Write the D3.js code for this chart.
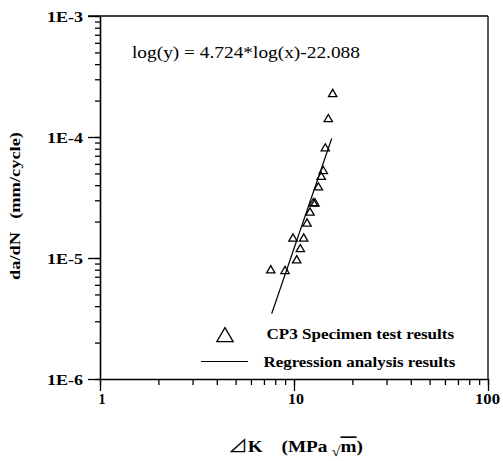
<!DOCTYPE html>
<html>
<head>
<meta charset="utf-8">
<script src="https://cdn.jsdelivr.net/npm/d3@7"></script>
<style>
  body { margin: 0; background: #fff; }
</style>
</head>
<body>
<div id="chart"></div>
<script>
var svgWidth = 503;
var svgHeight = 461;
var margin = {top: 16, right: 15, bottom: 82, left: 100};
var width = svgWidth - margin.left - margin.right;
var height = svgHeight - margin.top - margin.bottom;
var serifFont = "'Liberation Serif'";

// CP3 specimen test results
var deltaK = [15.83, 15.02, 14.50, 14.16, 13.82, 13.35, 12.83, 12.58, 12.09, 11.67, 9.88, 11.22, 10.78, 10.33, 8.99, 7.59];
var crackRate = [2.26e-4, 1.40e-4, 8.03e-5, 5.21e-5, 4.67e-5, 3.82e-5, 2.81e-5, 2.83e-5, 2.37e-5, 1.92e-5, 1.445e-5, 1.445e-5, 1.18e-5, 9.55e-6, 7.79e-6, 7.89e-6];

// regression line ends
var regK = [7.67, 15.64];
var regRate = [3.46e-6, 9.72e-5];

var xTickValues = [1, 10, 100];
var xTickLabels = ["1", "10", "100"];
var yTickValues = [1e-6, 1e-5, 1e-4, 1e-3];
var yTickLabels = ["1E-6", "1E-5", "1E-4", "1E-3"];

var equationText = "log(y) = 4.724*log(x)-22.088";
var legendLabels = ["CP3 Specimen test results", "Regression analysis results"];

// the scan is a bit stretched sideways: widen a text to a target width
function stretch(node, x, y, w, extra) {
  var t = d3.select(node).attr("x", 0).attr("y", 0);
  var s = w / node.getBBox().width;
  t.attr("transform", `translate(${x}, ${y}) ${extra || ""} scale(${s}, 1)`);
}

var svg = d3.select("#chart")
  .append("svg")
  .attr("width", svgWidth)
  .attr("height", svgHeight);

var chartGroup = svg.append("g")
  .attr("transform", `translate(${margin.left}, ${margin.top})`);

var xLogScale = d3.scaleLog().domain([1, 100]).range([0, width]);
var yLogScale = d3.scaleLog().domain([1e-6, 1e-3]).range([height, 0]);

// minor ticks first
chartGroup.append("g")
  .attr("transform", `translate(0, ${height})`)
  .call(d3.axisBottom(xLogScale).tickValues(xLogScale.ticks()).tickSize(6).tickFormat(""))
  .call(g => g.select(".domain").remove());
chartGroup.append("g")
  .call(d3.axisLeft(yLogScale).tickValues(yLogScale.ticks()).tickSize(5).tickFormat(""))
  .call(g => g.select(".domain").remove());

// major ticks + labels
var xAxis = chartGroup.append("g")
  .attr("transform", `translate(0, ${height})`)
  .call(d3.axisBottom(xLogScale).tickValues(xTickValues).tickSize(12).tickSizeOuter(0)
    .tickFormat((d, i) => xTickLabels[i]));
var yAxis = chartGroup.append("g")
  .call(d3.axisLeft(yLogScale).tickValues(yTickValues).tickSize(12).tickSizeOuter(0)
    .tickFormat((d, i) => yTickLabels[i]));

chartGroup.selectAll("g").attr("font-family", null);
chartGroup.selectAll(".tick line").attr("stroke", "#000").attr("stroke-width", 1.3);
chartGroup.selectAll(".domain").attr("stroke", "#000").attr("stroke-width", 1.6);

xAxis.selectAll("text")
  .style("font-family", serifFont).style("font-size", "14px").style("font-weight", "bold")
  .attr("fill", "#000").attr("dy", null)
  .each(function(d, i) { stretch(this, (i == 2 ? -1 : 1.5), 25, [7, 16, 25][i]); });
yAxis.selectAll("text")
  .style("font-family", serifFont).style("font-size", "14px").style("font-weight", "bold")
  .attr("fill", "#000").attr("dy", null)
  .each(function() { stretch(this, -17, 5, 36); });

// top and right frame
chartGroup.append("line")
  .attr("x1", -12).attr("x2", width).attr("y1", 0).attr("y2", 0)
  .attr("stroke", "#000").attr("stroke-width", 1.5);
chartGroup.append("line")
  .attr("x1", width).attr("x2", width).attr("y1", 0).attr("y2", height)
  .attr("stroke", "#000").attr("stroke-width", 1.3);

// regression line
var line = d3.line()
  .x(d => xLogScale(d[0]))
  .y(d => yLogScale(d[1]));
chartGroup.append("path")
  .datum(regK.map((k, i) => [k, regRate[i]]))
  .attr("d", line)
  .attr("fill", "none")
  .attr("stroke", "#000")
  .attr("stroke-width", 1.2);

// data triangles
var tri = d3.symbol().type(d3.symbolTriangle).size(30);
chartGroup.selectAll(".pt")
  .data(deltaK)
  .enter()
  .append("path")
  .attr("class", "pt")
  .attr("d", tri)
  .attr("transform", (d, i) => `translate(${xLogScale(d)}, ${yLogScale(crackRate[i])})`)
  .attr("fill", "none")
  .attr("stroke", "#000")
  .attr("stroke-width", 1.3);

// equation
chartGroup.append("text")
  .style("font-family", serifFont).style("font-size", "17px")
  .text(equationText)
  .each(function() { stretch(this, 32, 42, 228); });

// legend
var legend = chartGroup.append("g");
legend.append("path")
  .attr("d", d3.symbol().type(d3.symbolTriangle).size(115))
  .attr("transform", "translate(125, 321)")
  .attr("fill", "none")
  .attr("stroke", "#000")
  .attr("stroke-width", 1.3);
legend.append("line")
  .attr("x1", 101).attr("x2", 148).attr("y1", 345.5).attr("y2", 345.5)
  .attr("stroke", "#000").attr("stroke-width", 1);
legend.append("text")
  .style("font-family", serifFont).style("font-size", "15px").style("font-weight", "bold")
  .text(legendLabels[0])
  .each(function() { stretch(this, 166.5, 323, 188); });
legend.append("text")
  .style("font-family", serifFont).style("font-size", "15px").style("font-weight", "bold")
  .text(legendLabels[1])
  .each(function() { stretch(this, 163.5, 350.5, 192); });

// y axis title
var yTitle = svg.append("text")
  .attr("text-anchor", "middle")
  .style("font-family", serifFont).style("font-size", "15.5px").style("font-weight", "bold");
yTitle.append("tspan").text("da/dN");
yTitle.append("tspan").attr("dx", 11).text("(mm/cycle)");
stretch(yTitle.node(), 20, 206, 148, "rotate(-90)");

// x axis title
var xTitle = svg.append("text")
  .style("font-family", serifFont).style("font-size", "16.5px");
xTitle.append("tspan").style("font-family", "'Noto Sans CJK SC'").style("font-size", "17px").text("⊿");
xTitle.append("tspan").style("font-weight", "bold").text("K");
xTitle.append("tspan").attr("dx", 16).style("font-weight", "bold").text("(MPa");
xTitle.append("tspan").attr("dy", 4).style("font-size", "14px").text(" √");
xTitle.append("tspan").attr("dy", -4).style("font-weight", "bold").style("text-decoration", "overline").text("m");
xTitle.append("tspan").style("font-weight", "bold").text(")");
stretch(xTitle.node(), 228, 452, 135);
</script>
</body>
</html>
